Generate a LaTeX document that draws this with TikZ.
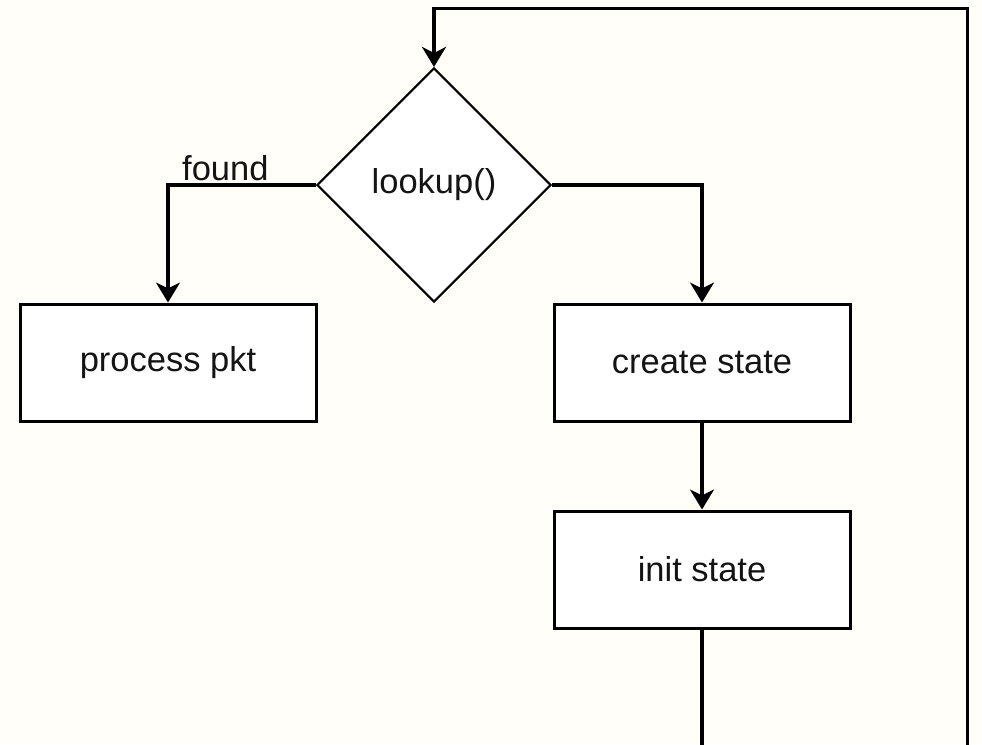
\documentclass[tikz,border=0pt]{standalone}
\usepackage{fontspec}
\setmainfont{Liberation Sans}
\usetikzlibrary{arrows.meta,shapes.geometric}
\definecolor{paper}{RGB}{255,254,248}
\definecolor{ink}{RGB}{20,20,20}
\tikzset{
  stepbox/.style={draw=black, fill=white, line width=3pt, rectangle,
    minimum width=296pt, minimum height=117pt, inner sep=0pt,
    font=\fontsize{34.5}{40}\selectfont, text=ink},
  decision/.style={draw=black, fill=white, line width=2.1pt, diamond, aspect=1,
    minimum width=234pt, minimum height=234pt, inner sep=0pt,
    font=\fontsize{34.5}{40}\selectfont, text=ink},
  conn/.style={draw=black, line width=3.2pt,
    -{Stealth[length=20pt,width=24pt,inset=6pt]}},
  lbl/.style={font=\fontsize{34.5}{40}\selectfont, text=ink, inner sep=0pt}
}
\begin{document}
\begin{tikzpicture}[x=1pt,y=-1pt]
  \clip (0,0) rectangle (982,744);
  \fill[paper] (0,0) rectangle (982,744);

  % decision and process steps
  \node[decision] (dia) at (434,185) {lookup()};
  \node[stepbox] (proc) at (168,362.5) {process pkt};
  \node[stepbox] (create) at (702,362.5) {create state};
  \node[stepbox] (init) at (702,569.5) {init state};

  % loop-back route, running below the visible area
  \coordinate (lowL) at (702,780);
  \coordinate (lowR) at (967.5,780);
  \coordinate (topR) at (967.5,8.5);

  \draw[conn] (dia.west) -| (proc.north);
  \node[lbl, anchor=base west] (found) at (182,180) {found};
  \draw[conn] (dia.east) -| (create.north);
  \draw[conn] (create.south) -- (init.north);
  \draw[conn] (init.south) -- (lowL) -- (lowR) -- (topR) -| (dia.north);
\end{tikzpicture}
\end{document}
